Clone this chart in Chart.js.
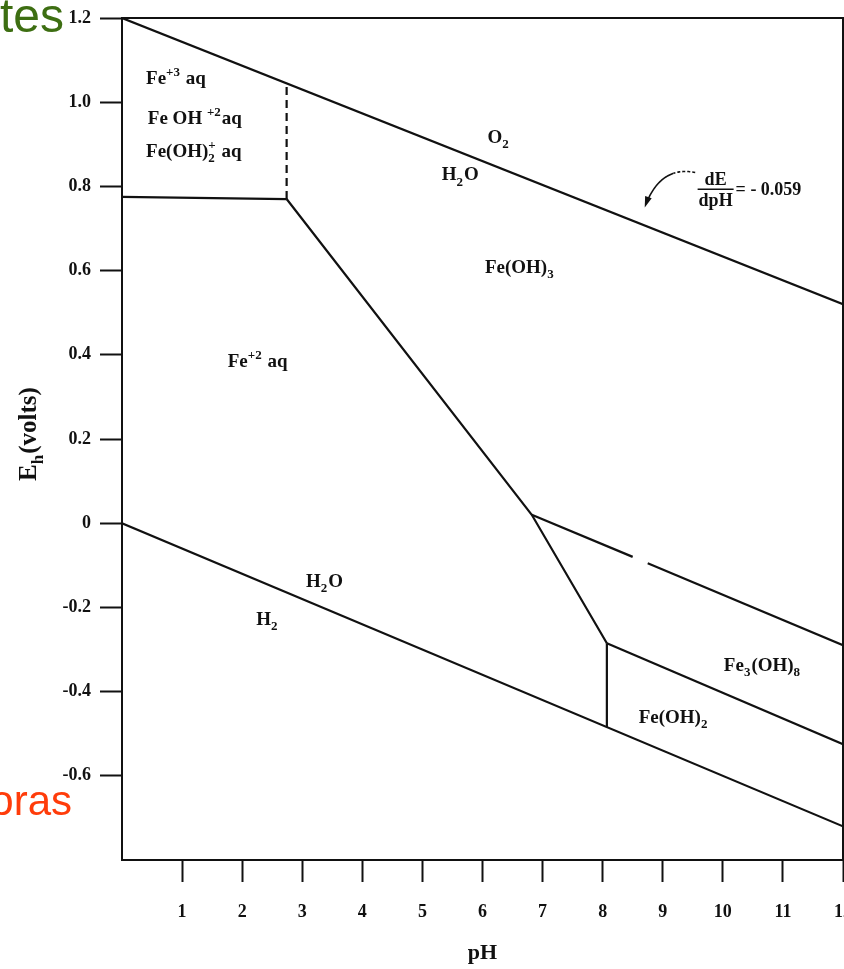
<!DOCTYPE html>
<html><head><meta charset="utf-8">
<script src="https://cdn.jsdelivr.net/npm/chart.js@4.4.1/dist/chart.umd.min.js"></script>
<style>
html,body{margin:0;padding:0;background:#fff;overflow:hidden;}
#wrap{position:relative;width:870px;height:969px;}
</style></head><body>
<div id="wrap"><canvas id="c"></canvas></div>
<script>
// ---- axis ranges / ticks ----
const pHRange = [0, 12];
const EhRange = [-0.8, 1.2];
const pHTickLabels = ['1','2','3','4','5','6','7','8','9','10','11','12'];
const EhTickLabels = ['1.2','1.0','0.8','0.6','0.4','0.2','0','-0.2','-0.4','-0.6'];

// ---- stability-field boundaries (pH, Eh volts) ----
const o2H2O_pH   = [0, 12];
const o2H2O_Eh   = [1.20, 0.52];
const fe3Fe2_pH  = [0, 2.74];
const fe3Fe2_Eh  = [0.775, 0.77];
const fe3Hyd_pH  = [2.74, 2.74];          // dashed
const fe3Hyd_Eh  = [0.77, 1.045];
const feOH3_pH   = [2.74, 6.82, 8.07];
const feOH3_Eh   = [0.77, 0.02, -0.285];
const fe3OH8a_pH = [6.82, 8.50];
const fe3OH8a_Eh = [0.02, -0.08];
const fe3OH8b_pH = [8.75, 12];
const fe3OH8b_Eh = [-0.095, -0.29];
const feOH2_pH   = [8.07, 12];
const feOH2_Eh   = [-0.285, -0.525];
const feOH2v_pH  = [8.07, 8.07];
const feOH2v_Eh  = [-0.285, -0.484];
const h2_pH      = [0, 12];
const h2_Eh      = [0, -0.72];

function pts(xs, ys){ return xs.map((x,i)=>({x:x, y:ys[i]})); }
function ds(xs, ys, dash){
  return {data: pts(xs, ys), showLine:true, borderColor:'#111', borderWidth:2.2,
          pointRadius:0, borderDash: dash || [], tension:0, fill:false};
}

const SERIF = '"Liberation Serif", "Times New Roman", serif';
const INK = '#111';

// ---- field labels (text + anchor in pH / Eh units) ----
const fieldLabels = [
  {pH:0.40, Eh:1.057, align:'left',   segs:[{t:'Fe'},{sup:'+3'},{t:' aq'}]},
  {pH:0.43, Eh:0.962, align:'left',   segs:[{t:'Fe OH '},{sup:'+2'},{t:'aq'}]},
  {pH:0.40, Eh:0.885, align:'left',   segs:[{t:'Fe(OH)'},{sub:'2', sup:'+'},{t:' aq'}]},
  {pH:1.76, Eh:0.386, align:'left',   segs:[{t:'Fe'},{sup:'+2'},{t:' aq'}]},
  {pH:6.27, Eh:0.918, align:'center', segs:[{t:'O'},{sub:'2'}]},
  {pH:5.63, Eh:0.829, align:'center', segs:[{t:'H'},{sub:'2'},{t:'O'}]},
  {pH:6.62, Eh:0.61,  align:'center', segs:[{t:'Fe(OH)'},{sub:'3'}]},
  {pH:3.37, Eh:-0.136,align:'center', segs:[{t:'H'},{sub:'2'},{t:'O'}]},
  {pH:2.42, Eh:-0.226,align:'center', segs:[{t:'H'},{sub:'2'}]},
  {pH:10.66,Eh:-0.336,align:'center', segs:[{t:'Fe'},{sub:'3'},{t:'(OH)'},{sub:'8'}]},
  {pH:9.18, Eh:-0.459,align:'center', segs:[{t:'Fe(OH)'},{sub:'2'}]}
];

function drawRich(ctx, segs, x, y, size, align){
  const big = 'bold ' + size + 'px ' + SERIF;
  const sm = 'bold ' + Math.round(size*0.68) + 'px ' + SERIF;
  const widths = segs.map(s=>{
    if (s.t !== undefined){ ctx.font = big; return ctx.measureText(s.t).width; }
    ctx.font = sm;
    const a = s.sup ? ctx.measureText(s.sup).width : 0;
    const b = s.sub ? ctx.measureText(s.sub).width : 0;
    return Math.max(a,b) + 1;
  });
  const total = widths.reduce((a,b)=>a+b,0);
  let cx = align==='center' ? x - total/2 : (align==='right' ? x - total : x);
  const base = y + size*0.33;
  ctx.textAlign = 'left'; ctx.textBaseline = 'alphabetic'; ctx.fillStyle = INK;
  segs.forEach((s,i)=>{
    if (s.t !== undefined){ ctx.font = big; ctx.fillText(s.t, cx, base); }
    else {
      ctx.font = sm;
      if (s.sup) ctx.fillText(s.sup, cx, base - size*0.42);
      if (s.sub) ctx.fillText(s.sub, cx, base + size*0.28);
    }
    cx += widths[i];
  });
  return total;
}

const annotPlugin = {
  id:'annot',
  afterDraw(chart){
    const {ctx, chartArea:a, scales:{x, y}} = chart;
    ctx.save();
    // frame top & right
    ctx.strokeStyle = INK; ctx.lineWidth = 2; ctx.setLineDash([]);
    ctx.beginPath();
    ctx.moveTo(a.left, a.top); ctx.lineTo(a.right, a.top); ctx.lineTo(a.right, a.bottom);
    ctx.stroke();

    // field labels
    fieldLabels.forEach(l=>{
      drawRich(ctx, l.segs, x.getPixelForValue(l.pH), y.getPixelForValue(l.Eh), 19, l.align);
    });

    // slope annotation dE/dpH = - 0.059
    const fx = x.getPixelForValue(9.88), fy = y.getPixelForValue(0.793);
    ctx.font = 'bold 18px ' + SERIF; ctx.fillStyle = INK; ctx.textAlign = 'center';
    ctx.textBaseline = 'alphabetic';
    ctx.fillText('dE', fx, fy - 4);
    ctx.textBaseline = 'top';
    ctx.fillText('dpH', fx, fy + 3);
    ctx.beginPath(); ctx.lineWidth = 1.5;
    ctx.moveTo(fx - 18, fy); ctx.lineTo(fx + 18, fy); ctx.stroke();
    ctx.textAlign = 'left'; ctx.textBaseline = 'middle';
    ctx.fillText('= - 0.059', fx + 20, fy + 1);

    // curved arrow
    const P0 = {x:x.getPixelForValue(9.54), y:y.getPixelForValue(0.833)};
    const P1 = {x:x.getPixelForValue(8.95), y:y.getPixelForValue(0.85)};
    const P2 = {x:x.getPixelForValue(8.70), y:y.getPixelForValue(0.75)};
    const q = t=>({x:(1-t)*(1-t)*P0.x + 2*(1-t)*t*P1.x + t*t*P2.x,
                   y:(1-t)*(1-t)*P0.y + 2*(1-t)*t*P1.y + t*t*P2.y});
    ctx.lineWidth = 1.6;
    ctx.setLineDash([3,2]);
    ctx.beginPath(); let p = q(0); ctx.moveTo(p.x,p.y);
    for (let t=0.02;t<=0.35;t+=0.02){ p=q(t); ctx.lineTo(p.x,p.y); }
    ctx.stroke();
    ctx.setLineDash([]);
    ctx.beginPath(); p=q(0.34); ctx.moveTo(p.x,p.y);
    for (let t=0.36;t<=0.90;t+=0.02){ p=q(t); ctx.lineTo(p.x,p.y); }
    ctx.stroke();
    const dx = P2.x - P1.x, dy = P2.y - P1.y, L = Math.hypot(dx,dy);
    const ux = dx/L, uy = dy/L;
    ctx.beginPath();
    ctx.moveTo(P2.x, P2.y);
    ctx.lineTo(P2.x - ux*11 - uy*3.5, P2.y - uy*11 + ux*3.5);
    ctx.lineTo(P2.x - ux*11 + uy*3.5, P2.y - uy*11 - ux*3.5);
    ctx.closePath(); ctx.fill();

    // y axis title  E_h(volts)
    ctx.save();
    ctx.translate(28, 434);
    ctx.rotate(-Math.PI/2);
    drawRich(ctx, [{t:'E'},{sub:'h'},{t:'(volts)'}], 0, 0, 25, 'center');
    ctx.restore();

    // slide text fragments at the left edge
    ctx.font = '48px "Liberation Sans", Arial, sans-serif';
    ctx.textAlign = 'right'; ctx.textBaseline = 'alphabetic';
    ctx.fillStyle = '#3d6e12';
    ctx.fillText('tes', 64, 32);
    ctx.font = '42px "Liberation Sans", Arial, sans-serif';
    ctx.fillStyle = '#ff3c0a';
    ctx.fillText('oras', 72, 815);
    ctx.restore();
  }
};

const near = (a,b)=>Math.abs(a-b)<1e-6;

new Chart(document.getElementById('c'), {
  type:'scatter',
  data:{datasets:[
    ds(o2H2O_pH, o2H2O_Eh),
    ds(fe3Fe2_pH, fe3Fe2_Eh),
    ds(fe3Hyd_pH, fe3Hyd_Eh, [8,5]),
    ds(feOH3_pH, feOH3_Eh),
    ds(fe3OH8a_pH, fe3OH8a_Eh),
    ds(fe3OH8b_pH, fe3OH8b_Eh),
    ds(feOH2_pH, feOH2_Eh),
    ds(feOH2v_pH, feOH2v_Eh),
    ds(h2_pH, h2_Eh)
  ]},
  options:{
    responsive:true, maintainAspectRatio:false, animation:false,
    layout:{padding:{top:18, right:27, bottom:0, left:0}},
    plugins:{legend:{display:false}, tooltip:{enabled:false}},
    scales:{
      x:{
        type:'linear', min:pHRange[0], max:pHRange[1],
        ticks:{stepSize:1, autoSkip:false, maxRotation:0, padding:20, color:INK,
               font:{family:SERIF, size:18, weight:'bold'},
               callback:(v)=>{ const i = pHTickLabels.indexOf(String(v)); return i<0 ? '' : pHTickLabels[i]; }},
        grid:{drawOnChartArea:false, drawTicks:true, tickLength:22, tickWidth:2,
              tickColor:(c)=> (c.tick && near(c.tick.value,0)) ? 'rgba(0,0,0,0)' : INK},
        border:{display:true, color:INK, width:2},
        title:{display:true, text:'pH', color:INK, font:{family:SERIF, size:22, weight:'bold'}, padding:{top:0,bottom:2}},
        afterFit:(s)=>{ s.height = 109; s.paddingLeft = 0; s.paddingRight = 0; }
      },
      y:{
        type:'linear', min:EhRange[0], max:EhRange[1],
        ticks:{stepSize:0.2, autoSkip:false, padding:9, color:INK,
               font:{family:SERIF, size:18, weight:'bold'},
               callback:(v)=>{
                 const s = near(v,0) ? '0' : Number(v).toFixed(1);
                 return EhTickLabels.includes(s) ? s : '';
               }},
        grid:{drawOnChartArea:false, drawTicks:true, tickLength:22, tickWidth:2,
              tickColor:(c)=> (c.tick && near(c.tick.value,-0.8)) ? 'rgba(0,0,0,0)' : INK},
        border:{display:true, color:INK, width:2},
        title:{display:false},
        afterFit:(s)=>{ s.width = 122; s.paddingTop = 0; s.paddingBottom = 0; }
      }
    }
  },
  plugins:[annotPlugin]
});
</script>
</body></html>
